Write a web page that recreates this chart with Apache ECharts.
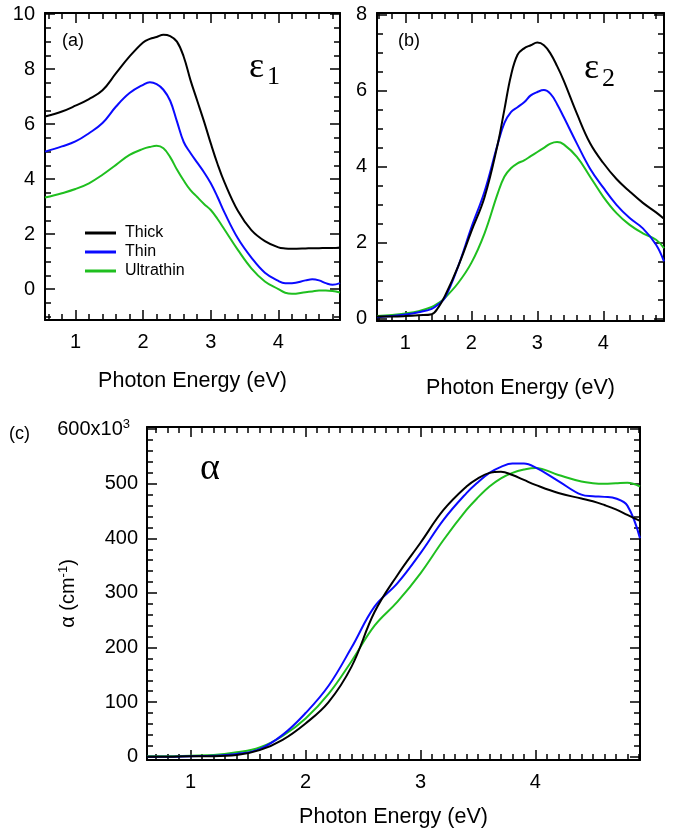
<!DOCTYPE html>
<html>
<head>
<meta charset="utf-8">
<script src="https://cdn.jsdelivr.net/npm/echarts@6/dist/echarts.min.js"></script>
<style>
  html, body { margin: 0; padding: 0; background: #fff; }
  #chart { width: 682px; height: 834px; }
</style>
</head>
<body>
<div id="chart"></div>
<script>
// (a) eps1 vs photon energy (eV)
const energyA = [0.55, 0.8, 1.0, 1.2, 1.4, 1.6, 1.8, 2.0, 2.1, 2.2, 2.3, 2.4, 2.5, 2.6, 2.7, 2.8, 2.9, 3.0, 3.1, 3.2, 3.4, 3.6, 3.8, 4.0, 4.1, 4.2, 4.4, 4.5, 4.6, 4.7, 4.8, 4.91];
const eps1Thick = [6.28, 6.46, 6.67, 6.91, 7.23, 7.85, 8.46, 8.97, 9.1, 9.17, 9.25, 9.2, 9.0, 8.45, 7.6, 6.85, 6.1, 5.3, 4.55, 3.9, 2.85, 2.15, 1.75, 1.52, 1.48, 1.47, 1.48, 1.49, 1.49, 1.5, 1.5, 1.52];
const eps1Thin = [5.0, 5.19, 5.37, 5.67, 6.04, 6.64, 7.13, 7.43, 7.52, 7.45, 7.25, 6.85, 6.1, 5.35, 4.95, 4.6, 4.25, 3.85, 3.35, 2.8, 1.85, 1.15, 0.6, 0.3, 0.22, 0.22, 0.32, 0.36, 0.32, 0.22, 0.16, 0.22];
const eps1Ultra = [3.33, 3.49, 3.64, 3.85, 4.16, 4.52, 4.88, 5.1, 5.17, 5.21, 5.12, 4.8, 4.35, 3.95, 3.6, 3.35, 3.1, 2.88, 2.55, 2.18, 1.43, 0.76, 0.28, 0.0, -0.13, -0.17, -0.11, -0.08, -0.05, -0.05, -0.07, -0.12];

// (b) eps2
const energyB = [0.57, 0.8, 1.0, 1.2, 1.4, 1.5, 1.6, 1.8, 2.0, 2.2, 2.4, 2.5, 2.6, 2.7, 2.8, 2.9, 3.0, 3.1, 3.2, 3.3, 3.4, 3.6, 3.8, 4.0, 4.2, 4.4, 4.6, 4.8, 4.92];
const eps2Thick = [0.06, 0.06, 0.07, 0.09, 0.12, 0.3, 0.6, 1.38, 2.3, 3.2, 4.6, 5.5, 6.4, 6.95, 7.12, 7.2, 7.27, 7.2, 6.98, 6.65, 6.27, 5.4, 4.62, 4.1, 3.68, 3.35, 3.05, 2.8, 2.63];
const eps2Thin = [0.04, 0.07, 0.11, 0.17, 0.26, 0.38, 0.55, 1.38, 2.4, 3.35, 4.6, 5.15, 5.44, 5.57, 5.7, 5.88, 5.97, 6.02, 5.92, 5.65, 5.31, 4.61, 3.95, 3.45, 3.0, 2.65, 2.38, 1.95, 1.51];
const eps2Ultra = [0.07, 0.1, 0.14, 0.2, 0.31, 0.41, 0.55, 0.94, 1.47, 2.25, 3.3, 3.74, 3.96, 4.09, 4.17, 4.28, 4.39, 4.5, 4.61, 4.65, 4.59, 4.26, 3.74, 3.21, 2.78, 2.47, 2.25, 2.08, 1.86];

// (c) alpha, units of 10^3 cm^-1
const energyC = [0.62, 0.8, 1.0, 1.2, 1.4, 1.6, 1.8, 2.0, 2.2, 2.4, 2.6, 2.8, 3.0, 3.2, 3.4, 3.5, 3.6, 3.7, 3.8, 3.9, 4.0, 4.2, 4.4, 4.5, 4.6, 4.7, 4.8, 4.91];
const alphaThick = [0, 0, 1, 1, 3, 12, 31, 61, 100, 165, 265, 333, 392, 452, 495, 510, 520, 522, 516, 507, 498, 483, 473, 468, 461, 453, 443, 432];
const alphaThin = [0, 0, 1, 2, 5, 14, 40, 80, 130, 200, 275, 318, 373, 434, 483, 503, 520, 531, 537, 537, 530, 505, 480, 477, 476, 473, 460, 400];
const alphaUltra = [1, 1, 2, 3, 8, 17, 38, 70, 115, 175, 240, 284, 336, 397, 452, 475, 495, 510, 520, 526, 529, 516, 504, 501, 500, 501, 502, 495];

// tick labels
const xMajor = [1, 2, 3, 4];
const yMajorA = [0, 2, 4, 6, 8, 10];
const yMajorB = [0, 2, 4, 6, 8];
const yMajorC = [0, 100, 200, 300, 400, 500, 600];

function steps(a, b, s, skip) {
  let out = [];
  for (let v = a; v <= b + 1e-9; v += s) {
    let r = Math.round(v * 1000) / 1000;
    if (Math.abs(r / skip - Math.round(r / skip)) > 1e-6) out.push(r);
  }
  return out;
}

const font = '"Liberation Sans", Arial, sans-serif';
const serif = '"Liberation Serif", "Times New Roman", serif';
const colors = ['#000000', '#0a0aff', '#1fbf1f'];
const tickStyle = { width: 1.5, color: '#000' };

function xAxes(gi, min, max, minor, nameGap) {
  const common = { type: 'value', gridIndex: gi, min: min, max: max, splitLine: { show: false } };
  const line = { show: true, onZero: false, lineStyle: { color: '#000', width: 2 } };
  const noLine = { show: false, onZero: false };
  return [
    Object.assign({}, common, {
      position: 'bottom', axisLine: line,
      axisTick: { inside: true, length: 10, customValues: xMajor, lineStyle: tickStyle },
      axisLabel: { customValues: xMajor, margin: 12, fontSize: 20, color: '#000', fontFamily: font },
      name: 'Photon Energy (eV)', nameLocation: 'middle', nameGap: nameGap, nameMoveOverlap: false,
      nameTextStyle: { fontSize: 21.5, color: '#000', fontFamily: font }
    }),
    Object.assign({}, common, {
      position: 'bottom', axisLine: noLine,
      axisTick: { inside: true, length: 6, customValues: minor, lineStyle: tickStyle },
      axisLabel: { show: false }
    }),
    Object.assign({}, common, {
      position: 'top', axisLine: line,
      axisTick: { inside: true, length: 10, customValues: xMajor, lineStyle: tickStyle },
      axisLabel: { show: false }
    }),
    Object.assign({}, common, {
      position: 'top', axisLine: noLine,
      axisTick: { inside: true, length: 6, customValues: minor, lineStyle: tickStyle },
      axisLabel: { show: false }
    })
  ];
}

function yAxes(gi, min, max, major, minor, label) {
  const common = { type: 'value', gridIndex: gi, min: min, max: max, splitLine: { show: false } };
  const line = { show: true, onZero: false, lineStyle: { color: '#000', width: 2 } };
  const noLine = { show: false, onZero: false };
  return [
    Object.assign({}, common, {
      position: 'left', axisLine: line,
      axisTick: { inside: true, length: 10, customValues: major, lineStyle: tickStyle },
      axisLabel: Object.assign({ customValues: major, margin: 10, fontSize: 20, color: '#000', fontFamily: font }, label || {})
    }),
    Object.assign({}, common, {
      position: 'left', axisLine: noLine,
      axisTick: { inside: true, length: 6, customValues: minor, lineStyle: tickStyle },
      axisLabel: { show: false }
    }),
    Object.assign({}, common, {
      position: 'right', axisLine: line,
      axisTick: { inside: true, length: 10, customValues: major, lineStyle: tickStyle },
      axisLabel: { show: false }
    }),
    Object.assign({}, common, {
      position: 'right', axisLine: noLine,
      axisTick: { inside: true, length: 6, customValues: minor, lineStyle: tickStyle },
      axisLabel: { show: false }
    })
  ];
}

function zip(xs, ys) {
  return xs.map(function (x, i) { return [x, ys[i]]; });
}

function lines(gi, xs, sets) {
  const names = ['Thick', 'Thin', 'Ultrathin'];
  return sets.map(function (ys, k) {
    return {
      name: names[k], type: 'line', xAxisIndex: gi * 4, yAxisIndex: gi * 4,
      data: zip(xs, ys), showSymbol: false, smooth: 0.4,
      lineStyle: { width: 2, color: colors[k] }, itemStyle: { color: colors[k] },
      z: 3 - k
    };
  });
}

let myChart = echarts.init(document.getElementById('chart'));

let supStyle = { fontSize: 13, padding: [0, 0, 10, 0], color: '#000', fontFamily: font };
let axesYC = yAxes(2, -6, 604, yMajorC, steps(20, 580, 20, 100), {
  margin: 9,
  formatter: function (v) { return v === 600 ? '600x10{sup|3}' : String(v); },
  rich: { sup: { fontSize: 13, padding: [0, 8, 10, 0], color: '#000', fontFamily: font } }
});
Object.assign(axesYC[0], {
  name: 'α (cm{sup|-1})', nameLocation: 'middle', nameGap: 67, nameMoveOverlap: false,
  nameTextStyle: { fontSize: 20, color: '#000', fontFamily: font, rich: { sup: supStyle } }
});

myChart.setOption({
  animation: false,
  backgroundColor: '#fff',
  grid: [
    { left: 45, top: 13, width: 295, height: 307 },
    { left: 377, top: 13, width: 287, height: 308 },
    { left: 147, top: 427, width: 493, height: 333 }
  ],
  xAxis: [].concat(
    xAxes(0, 0.55, 4.91, steps(0.6, 4.8, 0.2, 1), 50),
    xAxes(1, 0.57, 4.92, steps(0.6, 4.8, 0.2, 1), 56),
    xAxes(2, 0.62, 4.91, steps(0.7, 4.9, 0.1, 1), 46)
  ),
  yAxis: [].concat(
    yAxes(0, -1.12, 10.04, yMajorA, steps(-1, 9.5, 0.5, 2)),
    yAxes(1, -0.06, 8.05, yMajorB, steps(0.5, 7.5, 0.5, 2)),
    axesYC
  ),
  legend: {
    left: 80, top: 220, orient: 'vertical', itemGap: 3,
    itemWidth: 31, itemHeight: 3, icon: 'rect',
    data: ['Thick', 'Thin', 'Ultrathin'],
    textStyle: { fontSize: 16, lineHeight: 16, color: '#000', fontFamily: font, padding: [0, 0, 0, 4] }
  },
  graphic: [
    { type: 'text', left: 62, top: 32, style: { text: '(a)', font: '18px ' + font, fill: '#000' } },
    { type: 'text', left: 398, top: 32, style: { text: '(b)', font: '18px ' + font, fill: '#000' } },
    { type: 'text', left: 9, top: 425, style: { text: '(c)', font: '18px ' + font, fill: '#000' } },
    { type: 'text', left: 249, top: 50, style: { text: 'ε', font: '36px ' + serif, fill: '#000' } },
    { type: 'text', left: 267, top: 64, style: { text: '1', font: '26px ' + serif, fill: '#000' } },
    { type: 'text', left: 584, top: 51, style: { text: 'ε', font: '36px ' + serif, fill: '#000' } },
    { type: 'text', left: 602, top: 66, style: { text: '2', font: '26px ' + serif, fill: '#000' } },
    { type: 'text', left: 200, top: 450, style: { text: 'α', font: '38px ' + serif, fill: '#000' } }
  ],
  series: [].concat(
    lines(0, energyA, [eps1Thick, eps1Thin, eps1Ultra]),
    lines(1, energyB, [eps2Thick, eps2Thin, eps2Ultra]),
    lines(2, energyC, [alphaThick, alphaThin, alphaUltra])
  )
});
</script>
</body>
</html>
